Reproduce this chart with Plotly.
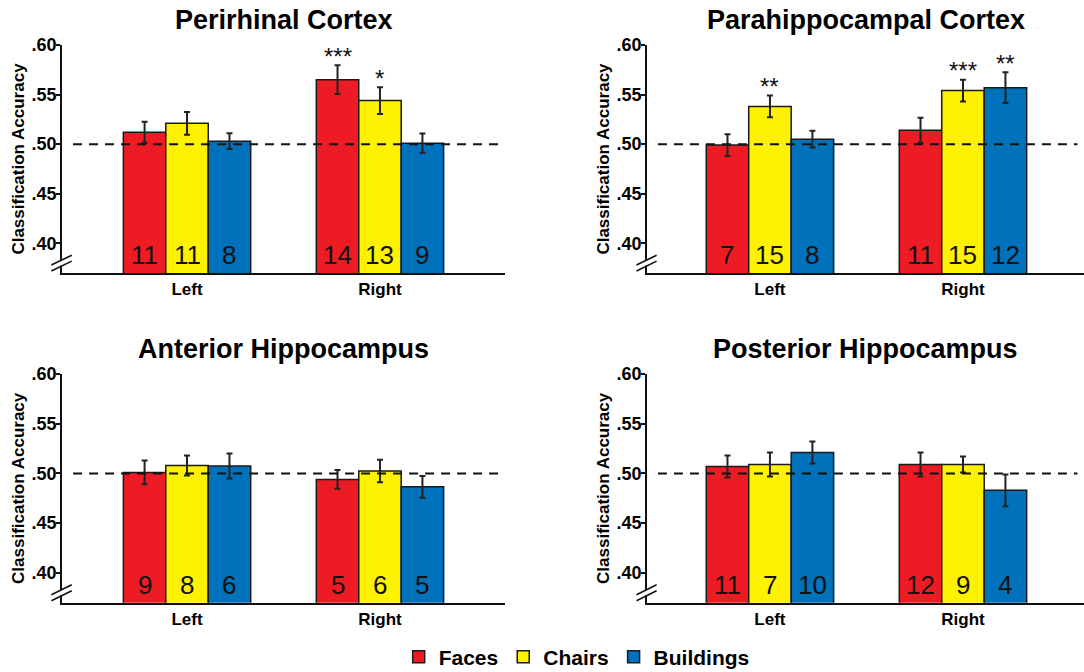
import plotly.graph_objects as go

# ---------------- data ----------------
panel_titles = ["Perirhinal Cortex", "Parahippocampal Cortex",
                "Anterior Hippocampus", "Posterior Hippocampus"]
hemispheres = ["Left", "Right"]
conditions = ["Faces", "Chairs", "Buildings"]
y_tick_vals = [0.40, 0.45, 0.50, 0.55, 0.60]
y_tick_text = [".40", ".45", ".50", ".55", ".60"]
chance = 0.50

# Perirhinal cortex (rows: Faces, Chairs, Buildings; cols: Left, Right)
prc_acc = [[0.512, 0.565], [0.521, 0.544], [0.503, 0.501]]
prc_err = [[0.0105, 0.0145], [0.0115, 0.0135], [0.008, 0.0097]]
prc_n = [[11, 14], [11, 13], [8, 9]]
prc_sig = [["", "***"], ["", "*"], ["", ""]]

# Parahippocampal cortex
phc_acc = [[0.499, 0.514], [0.538, 0.554], [0.505, 0.557]]
phc_err = [[0.011, 0.0125], [0.011, 0.011], [0.0085, 0.0155]]
phc_n = [[7, 11], [15, 15], [8, 12]]
phc_sig = [["", ""], ["**", "***"], ["", "**"]]

# Anterior hippocampus
ahc_acc = [[0.501, 0.494], [0.508, 0.5025], [0.5075, 0.4865]]
ahc_err = [[0.012, 0.0095], [0.010, 0.0113], [0.0125, 0.011]]
ahc_n = [[9, 5], [8, 6], [6, 5]]
ahc_sig = [["", ""], ["", ""], ["", ""]]

# Posterior hippocampus
phpc_acc = [[0.507, 0.509], [0.509, 0.509], [0.521, 0.483]]
phpc_err = [[0.011, 0.012], [0.012, 0.008], [0.011, 0.016]]
phpc_n = [[11, 12], [7, 9], [10, 4]]
phpc_sig = [["", ""], ["", ""], ["", ""]]

panels = [
    (prc_acc, prc_err, prc_n, prc_sig),
    (phc_acc, phc_err, phc_n, phc_sig),
    (ahc_acc, ahc_err, ahc_n, ahc_sig),
    (phpc_acc, phpc_err, phpc_n, phpc_sig),
]

# ---------------- style ----------------
colors = ["#ED1C24", "#FFF200", "#0072BC"]
FONT = "Liberation Sans, Arial, Helvetica, sans-serif"
BAR_W = 0.22
Y_MIN, Y_MAX = 0.37, 0.60
W, H = 1084, 672

x_domains = [[62 / W, 505 / W], [647 / W, 1.0], [62 / W, 505 / W], [647 / W, 1.0]]
y_domains = [[399 / H, 627 / H], [399 / H, 627 / H], [69.3 / H, 298 / H], [69.3 / H, 298 / H]]
x_ranges = [[-0.648, 1.648], [-0.637, 1.627], [-0.648, 1.648], [-0.637, 1.627]]
title_y = [0.970, 0.970, 0.481, 0.481]

fig = go.Figure()
layout = dict(
    width=W, height=H,
    margin=dict(l=0, r=0, t=0, b=0, autoexpand=False),
    paper_bgcolor="white", plot_bgcolor="white",
    barmode="overlay",
    font=dict(family=FONT, color="black"),
    showlegend=True,
    legend=dict(orientation="h", x=0.532, xanchor="center", y=0.022, yanchor="middle",
                font=dict(family=FONT, size=21, weight="bold", color="black"),
                itemclick=False, itemdoubleclick=False, tracegroupgap=0),
)
annotations = []
shapes = []
xpos = list(range(len(hemispheres)))

for k, (acc, err, ns, sig) in enumerate(panels):
    sfx = "" if k == 0 else str(k + 1)
    xa, ya = "x" + sfx, "y" + sfx
    for i, cond in enumerate(conditions):
        fig.add_trace(go.Bar(
            x=xpos, y=acc[i], width=BAR_W, offset=(i - 1.5) * BAR_W,
            name=cond, legendgroup=cond, showlegend=(k == 0),
            marker=dict(color=colors[i], line=dict(color="#1a1a1a", width=1.5)),
            error_y=dict(type="data", array=err[i], thickness=2, width=3, color="#222222"),
            xaxis=xa, yaxis=ya,
        ))
        for j in xpos:
            annotations.append(dict(
                x=j + (i - 1) * BAR_W, y=Y_MIN + 0.018, xref=xa, yref=ya,
                text=str(ns[i][j]), showarrow=False, yanchor="middle",
                font=dict(family=FONT, size=26, color="#111111")))
            if sig[i][j]:
                annotations.append(dict(
                    x=j + (i - 1) * BAR_W, y=acc[i][j] + err[i][j], xref=xa, yref=ya,
                    text=sig[i][j], showarrow=False, yanchor="middle", yshift=9,
                    font=dict(family=FONT, size=24, color="#111111")))
    layout["xaxis" + sfx] = dict(
        domain=x_domains[k], anchor=ya, range=x_ranges[k],
        tickvals=xpos, ticktext=hemispheres, ticks="", automargin=False,
        tickfont=dict(family=FONT, size=17, weight="bold", color="black"),
        showline=True, linecolor="#111111", linewidth=1.8,
        showgrid=False, zeroline=False, fixedrange=True)
    layout["yaxis" + sfx] = dict(
        domain=y_domains[k], anchor=xa, range=[Y_MIN, Y_MAX],
        tickvals=y_tick_vals, ticktext=y_tick_text, automargin=False,
        ticks="outside", ticklen=4, tickwidth=1.5, tickcolor="#111111",
        ticklabelstandoff=-4,
        tickfont=dict(family=FONT, size=18, weight="bold", color="black"),
        showline=True, linecolor="#111111", linewidth=1.8,
        showgrid=False, zeroline=False, fixedrange=True,
        title=dict(text="Classification Accuracy", standoff=3,
                   font=dict(family=FONT, size=17, weight="bold", color="black")))
    # chance line
    shapes.append(dict(type="line", xref=xa + " domain", yref=ya,
                       x0=0.025, x1=0.985, y0=chance, y1=chance,
                       line=dict(color="#111111", width=2, dash="9px,7px"), layer="above"))
    # axis break
    shapes.append(dict(type="rect", xref=xa + " domain", yref=ya,
                       x0=-0.006, x1=0.006, y0=Y_MIN + 0.0075, y1=Y_MIN + 0.0125,
                       fillcolor="white", line=dict(width=0), layer="above"))
    for off in (0.002, 0.008):
        shapes.append(dict(type="line", xref=xa + " domain", yref=ya,
                           x0=-0.024, x1=0.022, y0=Y_MIN + off, y1=Y_MIN + off + 0.010,
                           line=dict(color="#111111", width=1.6), layer="above"))
    annotations.append(dict(
        x=sum(x_domains[k]) / 2, y=title_y[k], xref="paper", yref="paper",
        text=panel_titles[k], showarrow=False, xanchor="center", yanchor="middle",
        font=dict(family=FONT, size=27, weight="bold", color="black")))

layout["annotations"] = annotations
layout["shapes"] = shapes
fig.update_layout(**layout)

post = ("var d=document.getElementById('{plot_id}');"
        "d.style.position='fixed';d.style.left='0px';d.style.top='0px';"
        "document.body.style.margin='0';document.body.style.overflow='hidden';")
fig.write_html("out.html", post_script=post, config={"displayModeBar": False})
